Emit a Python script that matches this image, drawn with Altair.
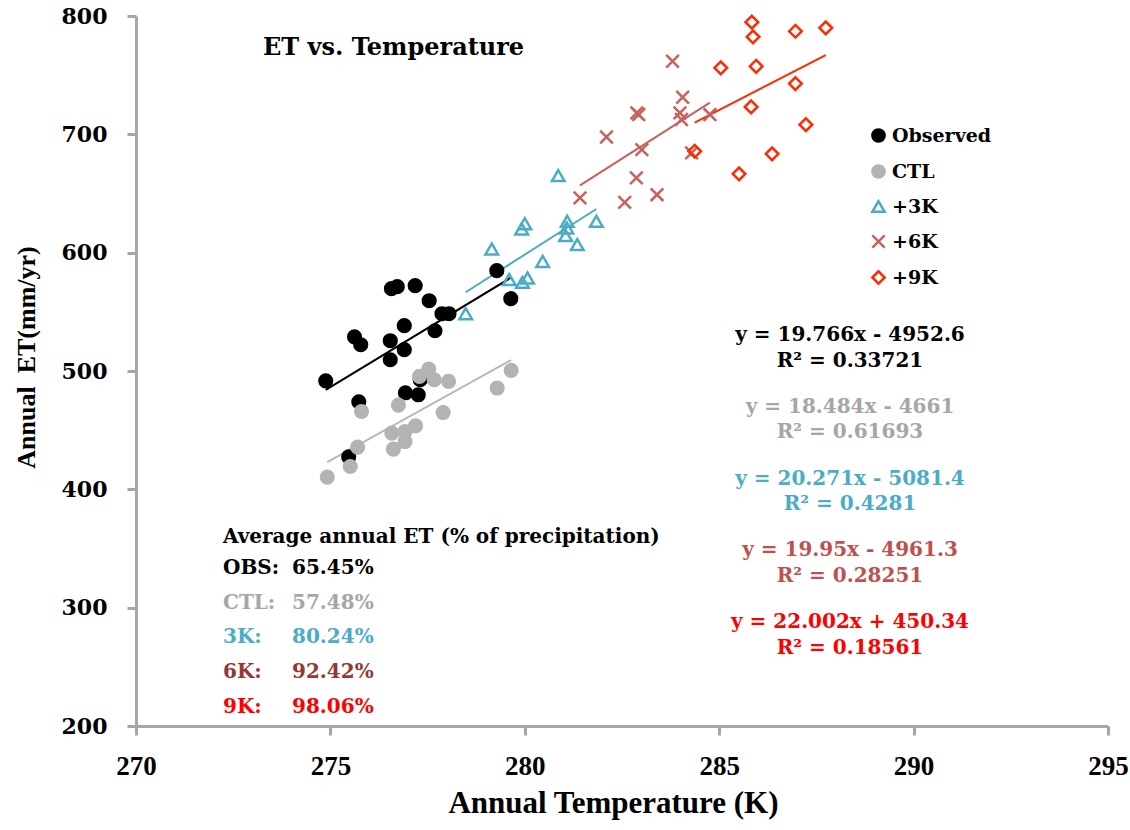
import altair as alt
import pandas as pd

# ---------------- data ----------------
SERIES = ["Observed", "CTL", "+3K", "+6K", "+9K"]

obs_t = [274.88, 275.62, 275.78, 275.73, 275.47, 276.57, 276.72, 276.54, 276.54, 276.90, 276.90,
         277.18, 277.54, 277.87, 278.05, 277.69, 276.93, 277.26, 277.31, 279.28, 279.64]
obs_et = [491.7, 528.9, 522.2, 474.0, 427.5, 569.6, 571.3, 525.6, 509.5, 538.3, 518.0,
          572.1, 559.4, 548.4, 548.4, 534.0, 481.6, 479.9, 492.6, 584.8, 561.1]

ctl_t = [274.92, 275.51, 275.70, 275.80, 276.58, 276.62, 276.75, 276.92, 276.92, 277.19,
         277.29, 277.53, 277.67, 278.04, 277.90, 279.29, 279.65]
ctl_et = [410.3, 419.3, 435.7, 465.8, 447.5, 434.0, 471.1, 448.9, 440.4, 453.7,
          495.4, 501.6, 492.6, 491.2, 464.9, 485.6, 500.5]

k3_t = [278.48, 279.15, 279.60, 279.94, 280.07, 279.92, 280.00, 280.46, 280.86, 281.05,
        281.08, 281.09, 281.35, 281.84]
k3_et = [548.4, 603.1, 577.2, 574.9, 578.6, 620.0, 624.5, 592.6, 665.1, 614.4,
         620.9, 626.5, 606.8, 626.5]

k6_t = [283.80, 284.06, 282.88, 282.93, 283.99, 284.03, 284.76, 282.10, 283.01, 284.29,
        282.87, 283.40, 282.57, 281.42]
k6_et = [761.8, 731.3, 718.1, 716.7, 718.1, 712.5, 716.7, 697.8, 687.1, 684.3,
         663.2, 649.0, 642.5, 646.3]

k9_t = [285.84, 285.87, 286.96, 287.74, 285.04, 285.95, 286.96, 285.82, 287.23, 284.37,
        286.36, 285.51]
k9_et = [794.8, 782.4, 787.1, 790.0, 756.2, 757.5, 742.9, 723.2, 708.2, 685.7,
         683.5, 666.6]

EQUATIONS = ["y = 19.766x - 4952.6", "y = 18.484x - 4661", "y = 20.271x - 5081.4",
             "y = 19.95x - 4961.3", "y = 22.002x + 450.34"]
R2_TEXT = ["R\u00b2 = 0.33721", "R\u00b2 = 0.61693", "R\u00b2 = 0.4281",
           "R\u00b2 = 0.28251", "R\u00b2 = 0.18561"]

AVG_HEADER = "Average annual ET (% of precipitation)"
AVG_LABELS = ["OBS:", "CTL:", "3K:", "6K:", "9K:"]
AVG_VALUES = ["65.45%", "57.48%", "80.24%", "92.42%", "98.06%"]

TITLE = "ET vs. Temperature"
X_TICKS = [270, 275, 280, 285, 290, 295]
Y_TICKS = [200, 300, 400, 500, 600, 700, 800]

# ---------------- styling ----------------
MARK_COLORS = ["#000000", "#b3b3b3", "#4bacc6", "#c8605c", "#ff2a00"]
LINE_COLORS = ["#000000", "#b8b8b8", "#4bacc6", "#c8605c", "#ff2a00"]
FILLS = ["#000000", "#b3b3b3", "transparent", "transparent", "transparent"]
SHAPES = ["circle", "circle", "triangle-up", "M-1,-1L1,1M-1,1L1,-1", "diamond"]
EQ_COLORS = ["#000000", "#a6a6a6", "#4bacc6", "#c0504d", "#ff0000"]
AVG_COLORS = ["#000000", "#a6a6a6", "#4bacc6", "#953735", "#ff0000"]
AXIS_GREY = "#a6a6a6"
SERIF = "DejaVu Serif"
TIMES = "Liberation Serif"

LEFT, TOP = 136, 16
W, H = 972, 710

frames = []
for name, t, et in zip(SERIES, [obs_t, ctl_t, k3_t, k6_t, k9_t],
                       [obs_et, ctl_et, k3_et, k6_et, k9_et]):
    frames.append(pd.DataFrame({"t": t, "et": et, "series": name}))
df = pd.concat(frames, ignore_index=True)
df["idx"] = range(len(df))

x_scale = alt.Scale(domain=[270, 295], nice=False, zero=False)
y_scale = alt.Scale(domain=[200, 800], nice=False, zero=False)

x_axis = alt.Axis(values=X_TICKS, grid=False, format="d",
                  domainColor=AXIS_GREY, domainWidth=3, tickColor=AXIS_GREY, tickWidth=3, tickSize=9,
                  labelFont=TIMES, labelFontSize=27, labelFontWeight="bold", labelColor="black",
                  labelPadding=18, labelFlush=False,
                  title="Annual Temperature (K)", titleFont=TIMES, titleFontSize=31,
                  titleFontWeight="bold", titleColor="black", titleX=477, titleY=86,
                  titleBaseline="alphabetic", titleAlign="center")
y_axis = alt.Axis(values=Y_TICKS, grid=False, format="d",
                  domainColor=AXIS_GREY, domainWidth=3, tickColor=AXIS_GREY, tickWidth=3, tickSize=9,
                  labelFont=SERIF, labelFontSize=22, labelFontWeight="bold", labelColor="black",
                  labelPadding=20, labelFlush=False,
                  title="Annual\u00a0 ET(mm/yr)", titleFont=TIMES, titleFontSize=26,
                  titleFontWeight="bold", titleColor="black", titleX=-110, titleY=341,
                  titleAngle=270, titleBaseline="middle", titleAlign="center")

X = alt.X("t:Q", scale=x_scale, axis=x_axis)
Y = alt.Y("et:Q", scale=y_scale, axis=y_axis)

legend = alt.Legend(orient="none", legendX=733, legendY=110, padding=0, title="",
                    labelFont=SERIF, labelFontSize=19, labelFontWeight="bold", labelColor="black",
                    rowPadding=13, labelOffset=4, symbolStrokeWidth=2.5, symbolSize=150,
                    symbolOpacity=1)

lines = alt.Chart(df).transform_regression(
    "t", "et", groupby=["series"]
).mark_line(strokeWidth=2).encode(
    x=X, y=Y,
    color=alt.Color("series:N", scale=alt.Scale(domain=SERIES, range=LINE_COLORS), legend=None),
)

points = alt.Chart(df).mark_point(size=160, strokeWidth=2.5, opacity=1).encode(
    x=X, y=Y,
    stroke=alt.Stroke("series:N", scale=alt.Scale(domain=SERIES, range=MARK_COLORS), legend=legend),
    fill=alt.Fill("series:N", scale=alt.Scale(domain=SERIES, range=FILLS), legend=legend),
    shape=alt.Shape("series:N", scale=alt.Scale(domain=SERIES, range=SHAPES), legend=legend),
    order=alt.Order("idx:Q"),
)


def text_layer(s, px, py, color, size, align="left", font=SERIF):
    return alt.Chart(pd.DataFrame({"s": [s]})).mark_text(
        font=font, fontSize=size, fontWeight="bold", color=color, align=align, baseline="middle"
    ).encode(text="s:N", x=alt.value(px - LEFT), y=alt.value(py - TOP))


texts = [text_layer(TITLE, 263, 48, "black", 24)]
for i, (eq, r2, c) in enumerate(zip(EQUATIONS, R2_TEXT, EQ_COLORS)):
    y0 = 335 + 71.8 * i
    texts.append(text_layer(eq, 850, y0, c, 20, align="center"))
    texts.append(text_layer(r2, 850, y0 + 25.5, c, 20, align="center"))

texts.append(text_layer(AVG_HEADER, 223, 537, "black", 20))
for i, (lab, val, c) in enumerate(zip(AVG_LABELS, AVG_VALUES, AVG_COLORS)):
    yy = 568 + 34.7 * i
    texts.append(text_layer(lab, 223, yy, c, 20))
    texts.append(text_layer(val, 292, yy, c, 20))

chart = alt.layer(lines, points, *texts).resolve_scale(
    color="independent"
).properties(
    width=W, height=H,
    autosize=alt.AutoSizeParams(type="none"),
    padding={"left": LEFT, "top": TOP, "right": 1130 - LEFT - W, "bottom": 830 - TOP - H},
    background="white",
).configure_view(stroke=None)

chart.save("out.html", embed_options={"renderer": "svg", "actions": False})
